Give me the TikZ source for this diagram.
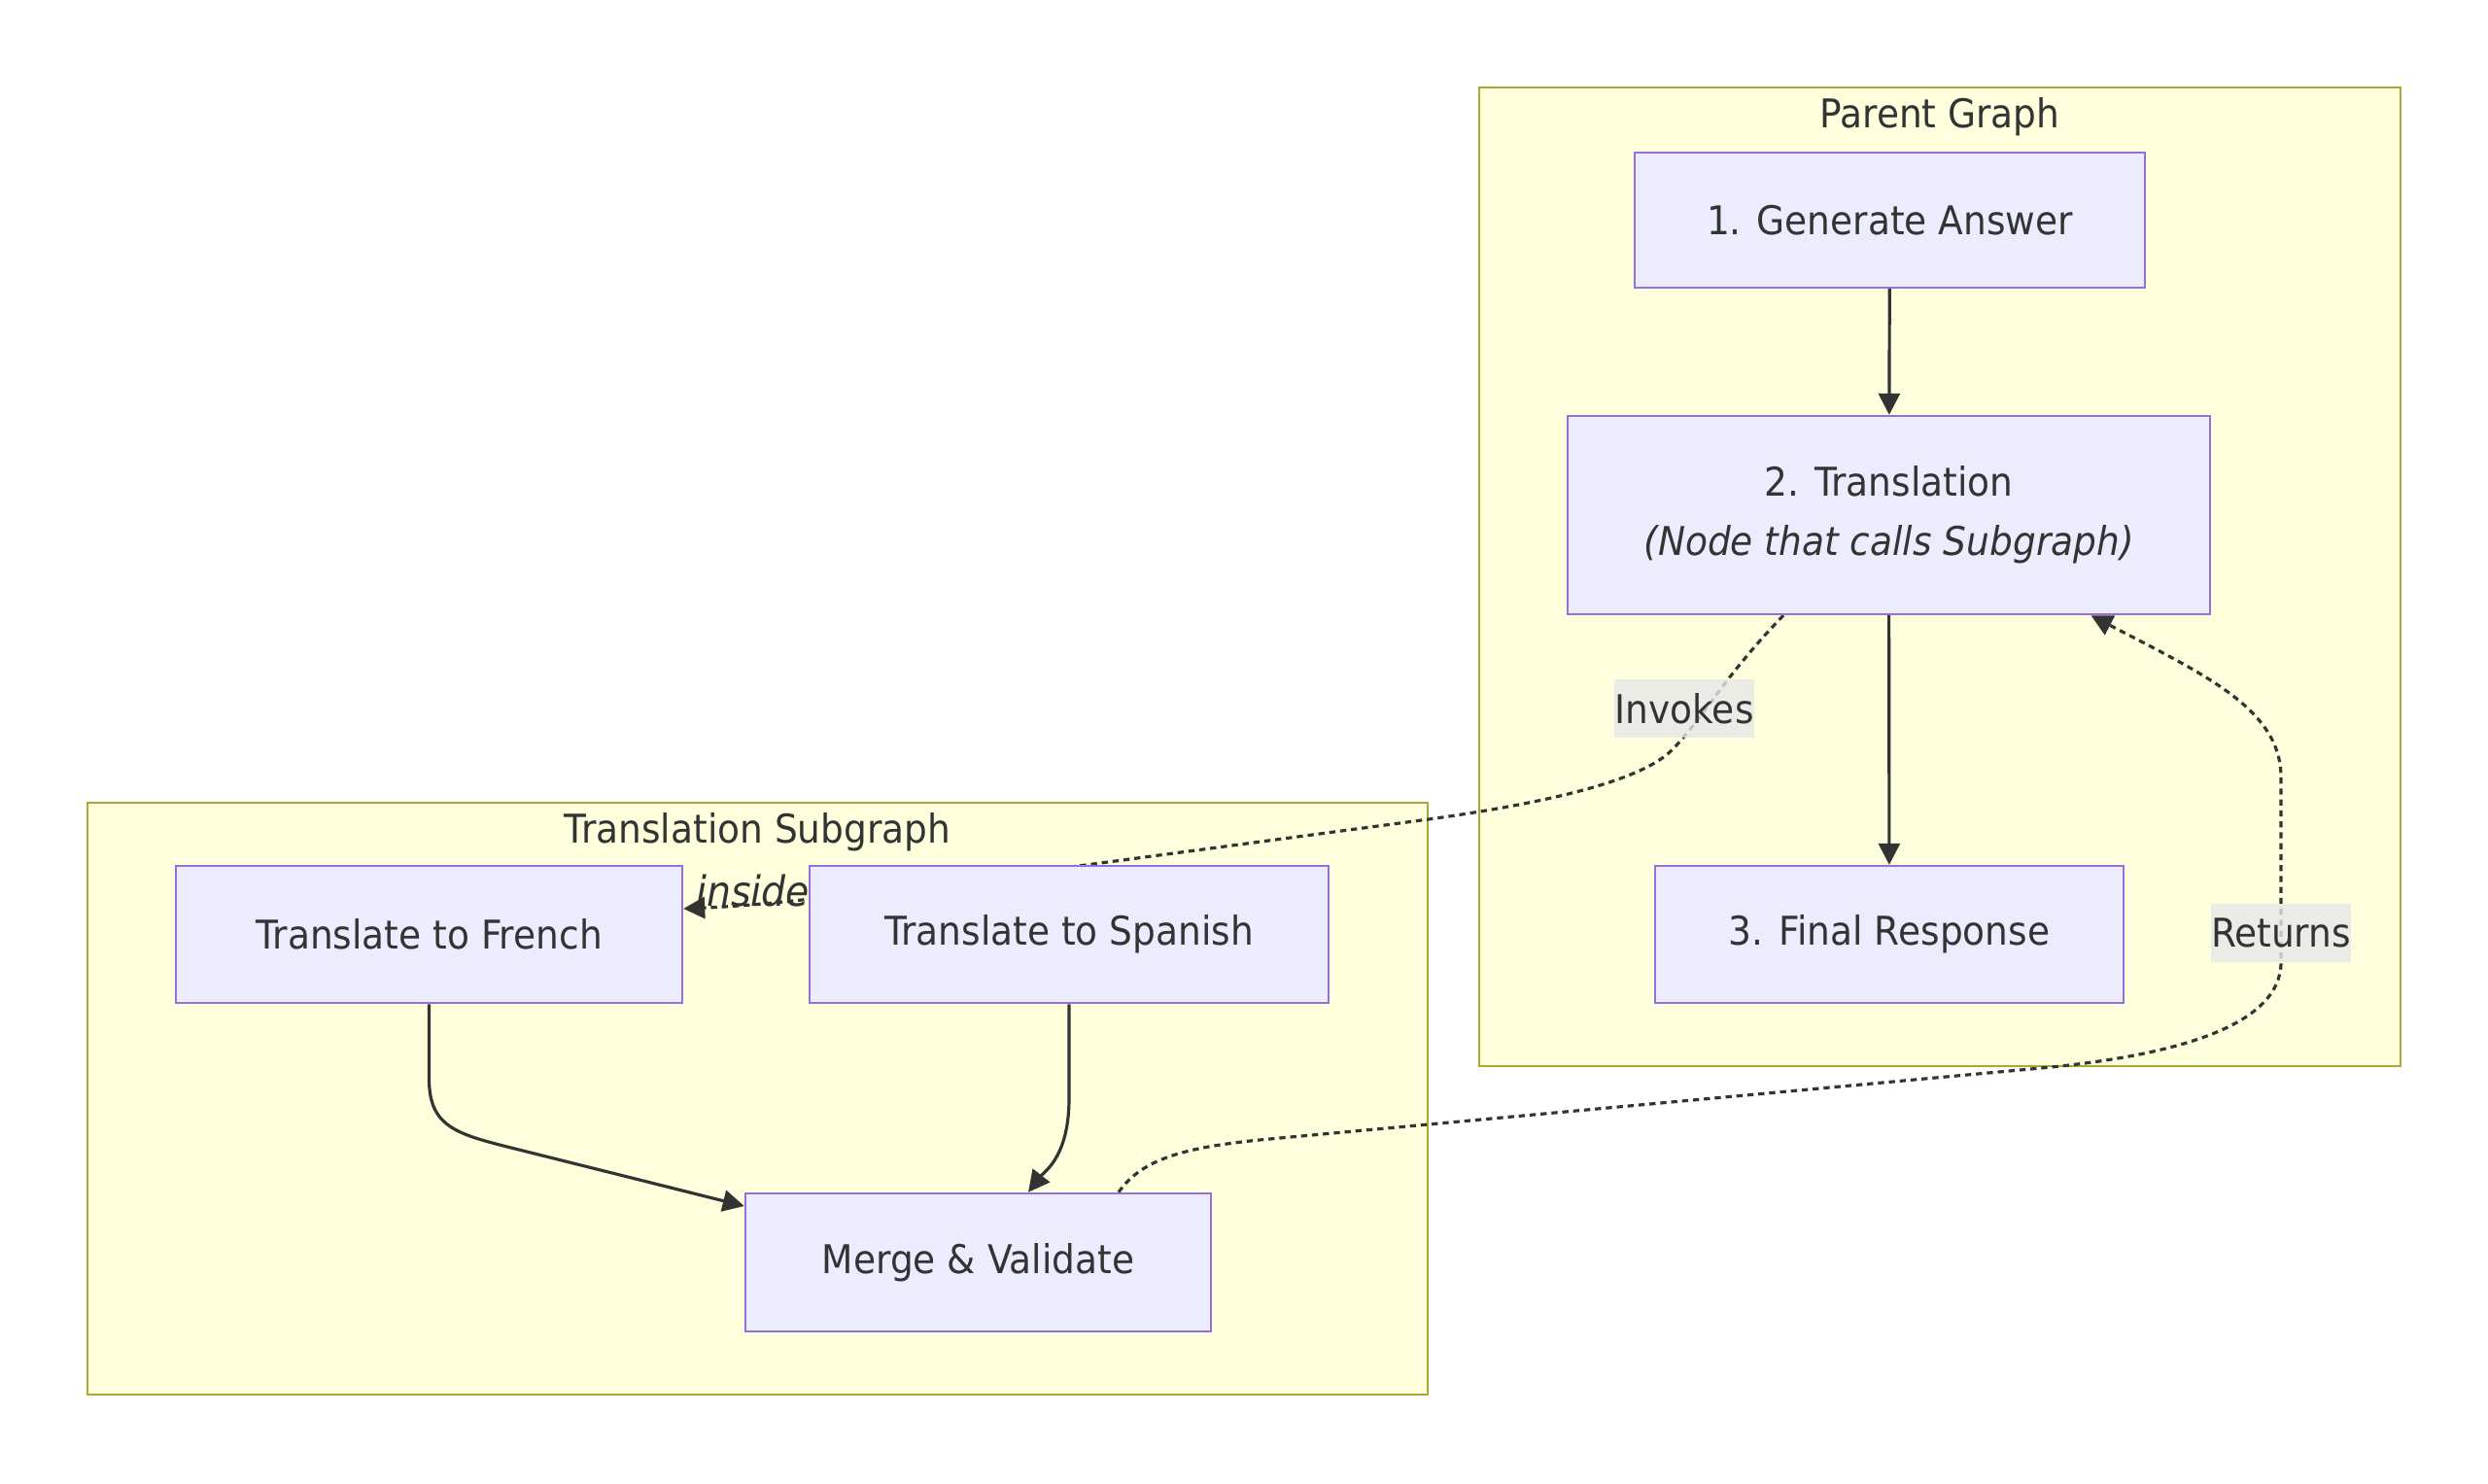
\documentclass[tikz,border=0pt]{standalone}
\usepackage{fontspec}
\setmainfont{DejaVu Sans}[FakeStretch=0.92]
\usetikzlibrary{positioning, arrows.meta, calc}

\definecolor{nodefill}{HTML}{ECECFF}
\definecolor{nodeline}{HTML}{9370DB}
\definecolor{clusterfill}{HTML}{FFFFDE}
\definecolor{clusterline}{HTML}{AAAA33}
\definecolor{edgecol}{HTML}{333333}
\definecolor{labelbg}{HTML}{E8E8E8}

\pgfdeclarelayer{background}
\pgfdeclarelayer{edges}
\pgfsetlayers{background,edges,main}

\begin{document}
\begin{tikzpicture}[
    every node/.style={align=center, text=edgecol, font=\fontsize{11.6pt}{17.3pt}\selectfont},
    box/.style={rectangle, draw=nodeline, fill=nodefill, line width=0.7pt, inner sep=0pt, minimum height=1.41cm},
    cluster/.style={rectangle, draw=clusterline, fill=clusterfill, line width=0.7pt, inner sep=0pt},
    flow/.style={-{Triangle[length=0.22cm, width=0.22cm]}, line width=0.9pt, draw=edgecol},
    dotflow/.style={flow, dash pattern=on 1.8pt off 1.4pt},
    edgelabel/.style={fill=labelbg, fill opacity=0.8, text opacity=1, inner sep=0pt, minimum height=0.6cm, minimum width=1.44cm}
]
\useasboundingbox (0,0) rectangle (25.6,-15.26);

% Subgraph-Rahmen
\begin{pgfonlayer}{background}
\node[cluster, minimum width=9.48cm, minimum height=10.07cm] (parent) at (19.96,-5.935) {};
\node[cluster, minimum width=13.79cm, minimum height=6.09cm] (sub) at (7.795,-11.305) {};
\end{pgfonlayer}
\node (parenttitle) at (19.96,-1.20) {Parent Graph};
\node (subtitle) at (7.795,-8.56) {Translation Subgraph};

% Knoten
\node[box, minimum width=5.25cm, minimum height=1.39cm] (gen) at (19.445,-2.265) {1. Generate Answer};
\node[box, minimum width=6.61cm, minimum height=2.04cm] (trans) at (19.435,-5.30) {2. Translation\\\textit{(Node that calls Subgraph)}};
\node[box, minimum width=4.82cm] (final) at (19.44,-9.615) {3. Final Response};
\node[box, minimum width=5.21cm] (french) at (4.415,-9.615) {Translate to French};
\node[box, minimum width=5.34cm] (spanish) at (11.0,-9.615) {Translate to Spanish};
\node[box, minimum width=4.79cm, minimum height=1.42cm] (merge) at (10.065,-12.99) {Merge \& Validate};

% Kanten
\begin{pgfonlayer}{edges}
\node[anchor=base west, font=\fontsize{12.2pt}{13pt}\selectfont\itshape] (inside) at (7.04,-9.32) {inside};
\draw[flow] (gen) -- (trans);
\draw[flow] (trans) -- (final);
\draw[flow] (french.south) -- (4.415,-11.1) .. controls (4.415,-11.6) and (4.7,-11.67) .. (5.3,-11.82) -- ([yshift=0.58cm]merge.west);
\draw[flow] (spanish.south) -- (11.0,-11.3) .. controls (11.0,-11.9) and (10.75,-12.05) .. ([xshift=0.515cm]merge.north);

% Aufruf und Rueckgabe
\draw[dotflow] ([xshift=-1.085cm]trans.south) .. controls (17.75,-6.95) and (17.5,-7.42) .. (17.2,-7.72)
    .. controls (16.9,-8.02) and (16.0,-8.25) .. (14.7,-8.43) -- (11.1,-8.91)
    .. controls (9.5,-9.1) and (8.2,-9.3) .. ([yshift=0.265cm]french.east);
\draw[dotflow] ([xshift=1.445cm]merge.north) .. controls (11.75,-11.92) and (12.2,-11.8) .. (13.06,-11.72)
    -- (21.0,-10.99) .. controls (22.4,-10.86) and (23.47,-10.55) .. (23.47,-9.9)
    -- (23.47,-8.0) .. controls (23.47,-7.3) and (22.7,-6.95) .. ([xshift=2.08cm]trans.south);
\end{pgfonlayer}

% Kantenbeschriftungen
\node[edgelabel] (invokes) at (17.33,-7.29) {Invokes};
\node[edgelabel] (returns) at (23.47,-9.60) {Returns};

\end{tikzpicture}
\end{document}
